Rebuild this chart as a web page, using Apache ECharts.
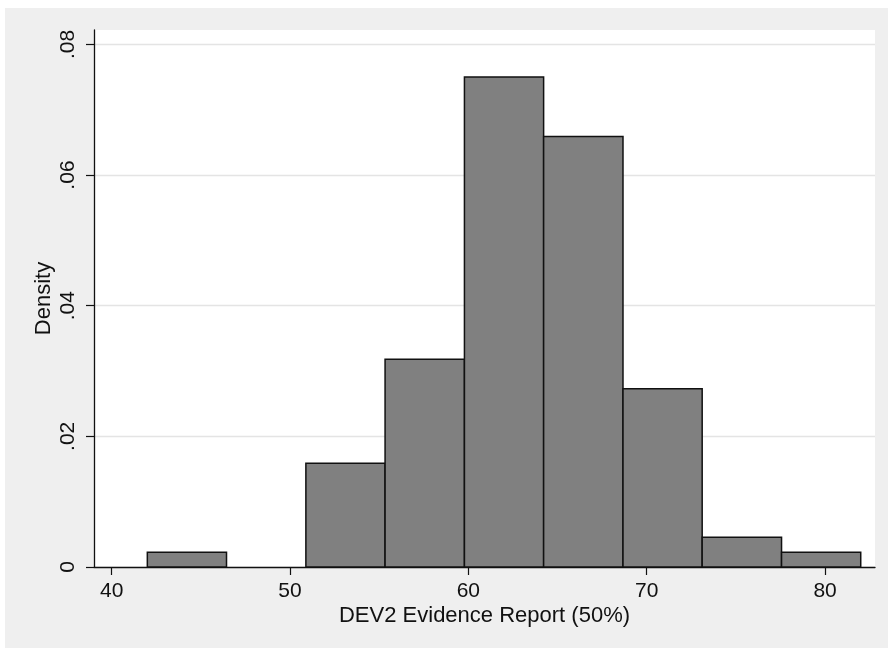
<!DOCTYPE html>
<html>
<head>
<meta charset="utf-8">
<title>DEV2 Evidence Report histogram</title>
<script src="https://cdn.jsdelivr.net/npm/echarts@6/dist/echarts.min.js"></script>
<style>
  html, body { margin: 0; padding: 0; background: #ffffff; }
  #chart { width: 888px; height: 648px; }
</style>
</head>
<body>
<div id="chart"></div>
<script>
// Histogram bin edges (score) and density per bin
var binEdges = [42.0, 46.44, 50.89, 55.33, 59.78, 64.22, 68.67, 73.11, 77.56, 82.0];
var densities = [0.00227, 0.0, 0.0159, 0.0318, 0.0750, 0.0659, 0.0273, 0.00455, 0.00227];

// Axis ticks
var xTicks = [40, 50, 60, 70, 80];
var yTicks = [0, 0.02, 0.04, 0.06, 0.08];
var yTickLabels = ['0', '.02', '.04', '.06', '.08'];

var xTitle = 'DEV2 Evidence Report (50%)';
var yTitle = 'Density';

var bars = [];
for (var i = 0; i < densities.length; i++) {
  bars.push([binEdges[i], binEdges[i + 1], densities[i]]);
}

var FONT = '"Liberation Sans", Arial, Helvetica, sans-serif';

var chart = echarts.init(document.getElementById('chart'), null, { renderer: 'canvas' });

chart.setOption({
  backgroundColor: '#ffffff',
  animation: false,
  graphic: [{
    type: 'rect',
    z: -10,
    silent: true,
    shape: { x: 5, y: 8, width: 883, height: 640 },
    style: { fill: '#efefef' }
  }],
  grid: {
    left: 94, right: 13, top: 30, bottom: 81,
    show: true, backgroundColor: '#ffffff', borderWidth: 0
  },
  xAxis: {
    type: 'value',
    min: 39.01,
    max: 82.8,
    name: xTitle,
    nameLocation: 'middle',
    nameGap: 38,
    nameMoveOverlap: false,
    nameTextStyle: { fontFamily: FONT, fontSize: 22, color: '#111' },
    axisLine: { show: true, onZero: false, lineStyle: { color: '#111', width: 1.3 } },
    axisTick: { show: true, length: 8, customValues: xTicks, lineStyle: { color: '#111', width: 1.2 } },
    axisLabel: { customValues: xTicks, margin: 14, fontFamily: FONT, fontSize: 21, color: '#111' },
    splitLine: { show: false }
  },
  yAxis: {
    type: 'value',
    min: 0,
    max: 0.0822,
    name: yTitle,
    nameLocation: 'middle',
    nameRotate: 90,
    nameGap: 39,
    nameMoveOverlap: false,
    nameTextStyle: { fontFamily: FONT, fontSize: 22, color: '#111' },
    axisLine: { show: true, lineStyle: { color: '#111', width: 1.3 } },
    axisTick: { show: true, length: 8, customValues: yTicks, lineStyle: { color: '#111', width: 1.2 } },
    axisLabel: {
      customValues: yTicks,
      rotate: 90,
      margin: 15,
      fontFamily: FONT, fontSize: 21, color: '#111',
      formatter: function (v) {
        for (var k = 0; k < yTicks.length; k++) {
          if (Math.abs(v - yTicks[k]) < 1e-9) return yTickLabels[k];
        }
        return '';
      }
    },
    splitLine: { show: true, lineStyle: { color: '#e4e4e4', width: 1.3 } }
  },
  series: [{
    type: 'custom',
    data: bars,
    encode: { x: [0, 1], y: 2 },
    renderItem: function (params, api) {
      // empty bins draw nothing
      if (!(api.value(2) > 0)) return null;
      var p0 = api.coord([api.value(0), api.value(2)]);
      var p1 = api.coord([api.value(1), 0]);
      return {
        type: 'rect',
        shape: { x: p0[0], y: p0[1], width: p1[0] - p0[0], height: p1[1] - p0[1] },
        style: { fill: '#808080', stroke: '#111111', lineWidth: 1.5 }
      };
    }
  }]
});
</script>
</body>
</html>
